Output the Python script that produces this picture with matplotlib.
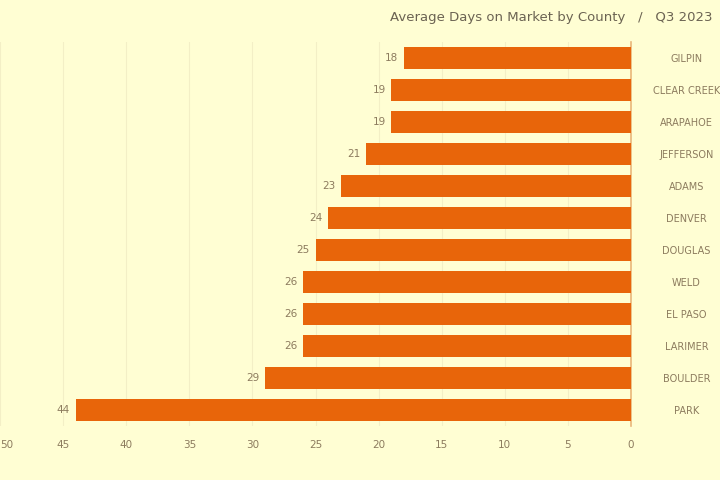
import matplotlib.pyplot as plt

counties = ["GILPIN", "CLEAR CREEK", "ARAPAHOE", "JEFFERSON", "ADAMS", "DENVER",
            "DOUGLAS", "WELD", "EL PASO", "LARIMER", "BOULDER", "PARK"]
days = [18, 19, 19, 21, 23, 24, 25, 26, 26, 26, 29, 44]
xticks = [0, 5, 10, 15, 20, 25, 30, 35, 40, 45, 50]

bg = "#FFFED3"
bar_col = "#E8650A"
txt_col = "#8C7B5E"

fig = plt.figure(figsize=(7.2, 4.8), dpi=100)
fig.patch.set_facecolor(bg)
ax = fig.add_axes([0.0, 0.1125, 0.8764, 0.8])
ax.set_facecolor(bg)

pos = list(range(len(counties)))
ax.barh(pos, days, height=0.66, color=bar_col, zorder=3)

for p, v in zip(pos, days):
    ax.annotate(str(v), (v, p), xytext=(-4, 0), textcoords="offset points",
                ha="right", va="center", fontsize=7.5, color=txt_col)

# mirrored layout: zero on the right
ax.set_xlim(50, 0)
ax.set_ylim(len(counties) - 0.5, -0.5)
ax.set_xticks(xticks)
# 50 sits on the left edge, keep it inside the picture
ax.set_xticklabels([str(t) for t in xticks], fontsize=7.5, color=txt_col)
ax.get_xticklabels()[-1].set_horizontalalignment("left")
ax.tick_params(axis="x", length=0, pad=10)

ax.yaxis.tick_right()
ax.set_yticks(pos)
ax.set_yticklabels(counties, fontsize=7, color=txt_col)
ax.tick_params(axis="y", length=0, pad=40)
for lab in ax.get_yticklabels():
    lab.set_horizontalalignment("center")

ax.grid(axis="x", color="#F3EFC6", linewidth=0.8, zorder=0)
for s in ["top", "bottom", "left"]:
    ax.spines[s].set_visible(False)
ax.spines["right"].set_color("#E9B77A")
ax.spines["right"].set_linewidth(1.2)

fig.text(0.99, 0.963, "Average Days on Market by County   /   Q3 2023",
         ha="right", va="center", fontsize=9.5, color="#6B6352")

fig.savefig("out.png", dpi=100, facecolor=bg)
